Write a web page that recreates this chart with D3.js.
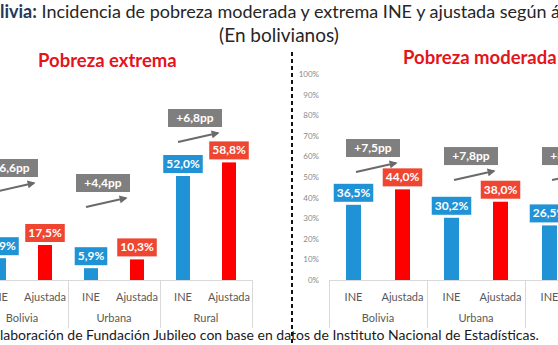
<!DOCTYPE html>
<html>
<head>
<meta charset="utf-8">
<script src="https://cdn.jsdelivr.net/npm/d3@7"></script>
<style>
  body { margin: 0; background: #fff; }
  svg { display: block; font-family: Lato, "Liberation Sans", sans-serif; }
</style>
</head>
<body>
<svg id="chart" width="558" height="345"></svg>
<script>
// datos
const grupos = ['Bolivia', 'Urbana', 'Rural'];
const tipos = ['INE', 'Ajustada'];
const extremaINE = [10.9, 5.9, 52.0];
const extremaAjustada = [17.5, 10.3, 58.8];
const moderadaINE = [36.5, 30.2, 26.5];
const moderadaAjustada = [44.0, 38.0, 34.6];
const ticksEje = [0, 10, 20, 30, 40, 50, 60, 70, 80, 90, 100];

const titulo1 = 'Incidencia de pobreza moderada y extrema INE y ajustada según área';
const titulo2 = '(En bolivianos)';
const fuente = 'Fuente: Elaboración de Fundación Jubileo con base en datos de Instituto Nacional de Estadísticas.';

const colores = { INE: '#1f93d6', Ajustada: '#ff0000' };
const coloresEtiqueta = { INE: '#1f93d6', Ajustada: '#ef4632' };

let svg = d3.select('#chart');
svg.append('rect').attr('width', 558).attr('height', 345).attr('fill', '#fff');

let defs = svg.append('defs');
defs.append('marker')
  .attr('id', 'flecha')
  .attr('viewBox', '0 0 10 10')
  .attr('refX', 8).attr('refY', 5)
  .attr('markerWidth', 4).attr('markerHeight', 4)
  .attr('orient', 'auto')
  .append('path').attr('d', 'M0,0L10,5L0,10z').attr('fill', '#6a6a6a');

let fmt = (v) => v.toFixed(1).replace('.', ',');

// titulo, recortado a la izquierda como en el original
let t1 = svg.append('text').attr('y', 18).attr('font-size', 18);
t1.append('tspan').attr('fill', '#1f3a5c').attr('font-weight', 'bold').text('Bolivia:');
t1.append('tspan').attr('fill', '#262626').text(' ' + titulo1);
let medida = svg.append('text').attr('font-size', 18).attr('font-weight', 'bold').text('Bo');
let anchoBo = medida.node().getComputedTextLength();
medida.remove();
t1.attr('x', -anchoBo);

svg.append('text').attr('x', 279).attr('y', 42).attr('text-anchor', 'middle')
  .attr('font-size', 19).attr('fill', '#262626').text(titulo2);

// fuente
let tf = svg.append('text').attr('y', 340).attr('font-size', 14).attr('fill', '#1a1a1a').text(fuente);
let medida2 = svg.append('text').attr('font-size', 14).text('Fuente: E');
tf.attr('x', -medida2.node().getComputedTextLength());
medida2.remove();

// linea divisoria
svg.append('line')
  .attr('x1', 292).attr('x2', 292).attr('y1', 52).attr('y2', 345)
  .attr('stroke', '#111').attr('stroke-width', 2).attr('stroke-dasharray', '4,3');

let dibujarPanel = (cfg) => {
  let g = svg.append('g');
  let claves = [];
  grupos.forEach((gr) => tipos.forEach((t) => claves.push(gr + '|' + t)));

  let x = d3.scaleBand().domain(claves).range(cfg.xRango);
  let y = d3.scaleLinear().domain([0, 100]).range([280, cfg.yTope]);

  let filas = [];
  grupos.forEach((gr, i) => {
    filas.push({ grupo: gr, tipo: 'INE', valor: cfg.ine[i] });
    filas.push({ grupo: gr, tipo: 'Ajustada', valor: cfg.ajustada[i] });
  });

  // eje y
  if (cfg.eje) {
    g.selectAll('.tick-y').data(ticksEje).enter().append('text')
      .attr('x', cfg.xRango[0] - 10)
      .attr('y', (d) => y(d) + 3)
      .attr('text-anchor', 'end')
      .attr('font-size', 8)
      .attr('fill', '#8a8a8a')
      .text((d) => d + '%');
  }

  // linea base y separadores
  g.append('line')
    .attr('x1', cfg.xRango[0]).attr('x2', cfg.xRango[1])
    .attr('y1', 280.5).attr('y2', 280.5)
    .attr('stroke', '#d9d9d9');
  let bordes = grupos.map((gr) => x(gr + '|INE')).concat([cfg.xRango[1]]);
  g.selectAll('.sep').data(bordes).enter().append('line')
    .attr('x1', (d) => Math.round(d) + 0.5).attr('x2', (d) => Math.round(d) + 0.5)
    .attr('y1', 280).attr('y2', 328)
    .attr('stroke', '#d9d9d9');

  // barras
  let anchoBarra = cfg.anchoBarra;
  g.selectAll('.barra').data(filas).enter().append('rect')
    .attr('x', (d) => x(d.grupo + '|' + d.tipo) + x.bandwidth() / 2 - anchoBarra / 2)
    .attr('y', (d) => y(d.valor))
    .attr('width', anchoBarra)
    .attr('height', (d) => 280 - y(d.valor))
    .attr('fill', (d) => colores[d.tipo]);

  // etiquetas de valor
  filas.forEach((d) => {
    let cx = x(d.grupo + '|' + d.tipo) + x.bandwidth() / 2;
    let base = y(d.valor) - 3;
    let eg = g.append('g');
    let rect = eg.append('rect').attr('fill', coloresEtiqueta[d.tipo]);
    let txt = eg.append('text')
      .attr('x', cx).attr('y', base - 5)
      .attr('text-anchor', 'middle')
      .attr('font-size', 12).attr('font-weight', 'bold')
      .attr('fill', '#fff')
      .text(fmt(d.valor) + '%');
    let w = txt.node().getComputedTextLength() + 6;
    rect.attr('x', cx - w / 2).attr('y', base - 18).attr('width', w).attr('height', 18);
  });

  // etiquetas de categoria
  g.selectAll('.cat').data(filas).enter().append('text')
    .attr('x', (d) => x(d.grupo + '|' + d.tipo) + x.bandwidth() / 2)
    .attr('y', 301)
    .attr('text-anchor', 'middle')
    .attr('font-size', 11)
    .attr('fill', '#595959')
    .text((d) => d.tipo);
  g.selectAll('.grp').data(grupos).enter().append('text')
    .attr('x', (d) => x(d + '|INE') + x.bandwidth())
    .attr('y', 322)
    .attr('text-anchor', 'middle')
    .attr('font-size', 11)
    .attr('fill', '#595959')
    .text((d) => d);

  // cajas de diferencia en pp con flecha
  grupos.forEach((gr, i) => {
    let dif = cfg.ajustada[i] - cfg.ine[i];
    let centro = x(gr + '|INE') + x.bandwidth() + cfg.dxNota;
    let fondo = y(cfg.nivelNota[i]);
    let bw = 54, bh = 18;
    g.append('rect')
      .attr('x', centro - bw / 2).attr('y', fondo - bh)
      .attr('width', bw).attr('height', bh)
      .attr('fill', '#7f7f7f');
    g.append('text')
      .attr('x', centro).attr('y', fondo - 5)
      .attr('text-anchor', 'middle')
      .attr('font-size', 12).attr('font-weight', 'bold')
      .attr('fill', '#fff')
      .text('+' + fmt(dif) + 'pp');
    g.append('line')
      .attr('x1', centro - bw / 2 + 10).attr('y1', fondo + 15)
      .attr('x2', centro + bw / 2 - 4).attr('y2', fondo + 6)
      .attr('stroke', '#6a6a6a').attr('stroke-width', 2)
      .attr('marker-end', 'url(#flecha)');
  });

  // subtitulo
  svg.append('text')
    .attr('x', cfg.subX).attr('y', cfg.subY)
    .attr('font-size', 18.5).attr('font-weight', 'bold')
    .attr('fill', '#e4141c')
    .text(cfg.subtitulo);
};

dibujarPanel({
  xRango: [-24, 252], yTope: 80, anchoBarra: 14, eje: false,
  ine: extremaINE, ajustada: extremaAjustada,
  nivelNota: [51.5, 44, 76.5], dxNota: -11,
  subtitulo: 'Pobreza extrema', subX: 38, subY: 67
});

dibujarPanel({
  xRango: [329, 623], yTope: 74, anchoBarra: 15, eje: true,
  ine: moderadaINE, ajustada: moderadaAjustada,
  nivelNota: [59.7, 55.8, 55.8], dxNota: -5,
  subtitulo: 'Pobreza moderada', subX: 403, subY: 64
});
</script>
</body>
</html>
